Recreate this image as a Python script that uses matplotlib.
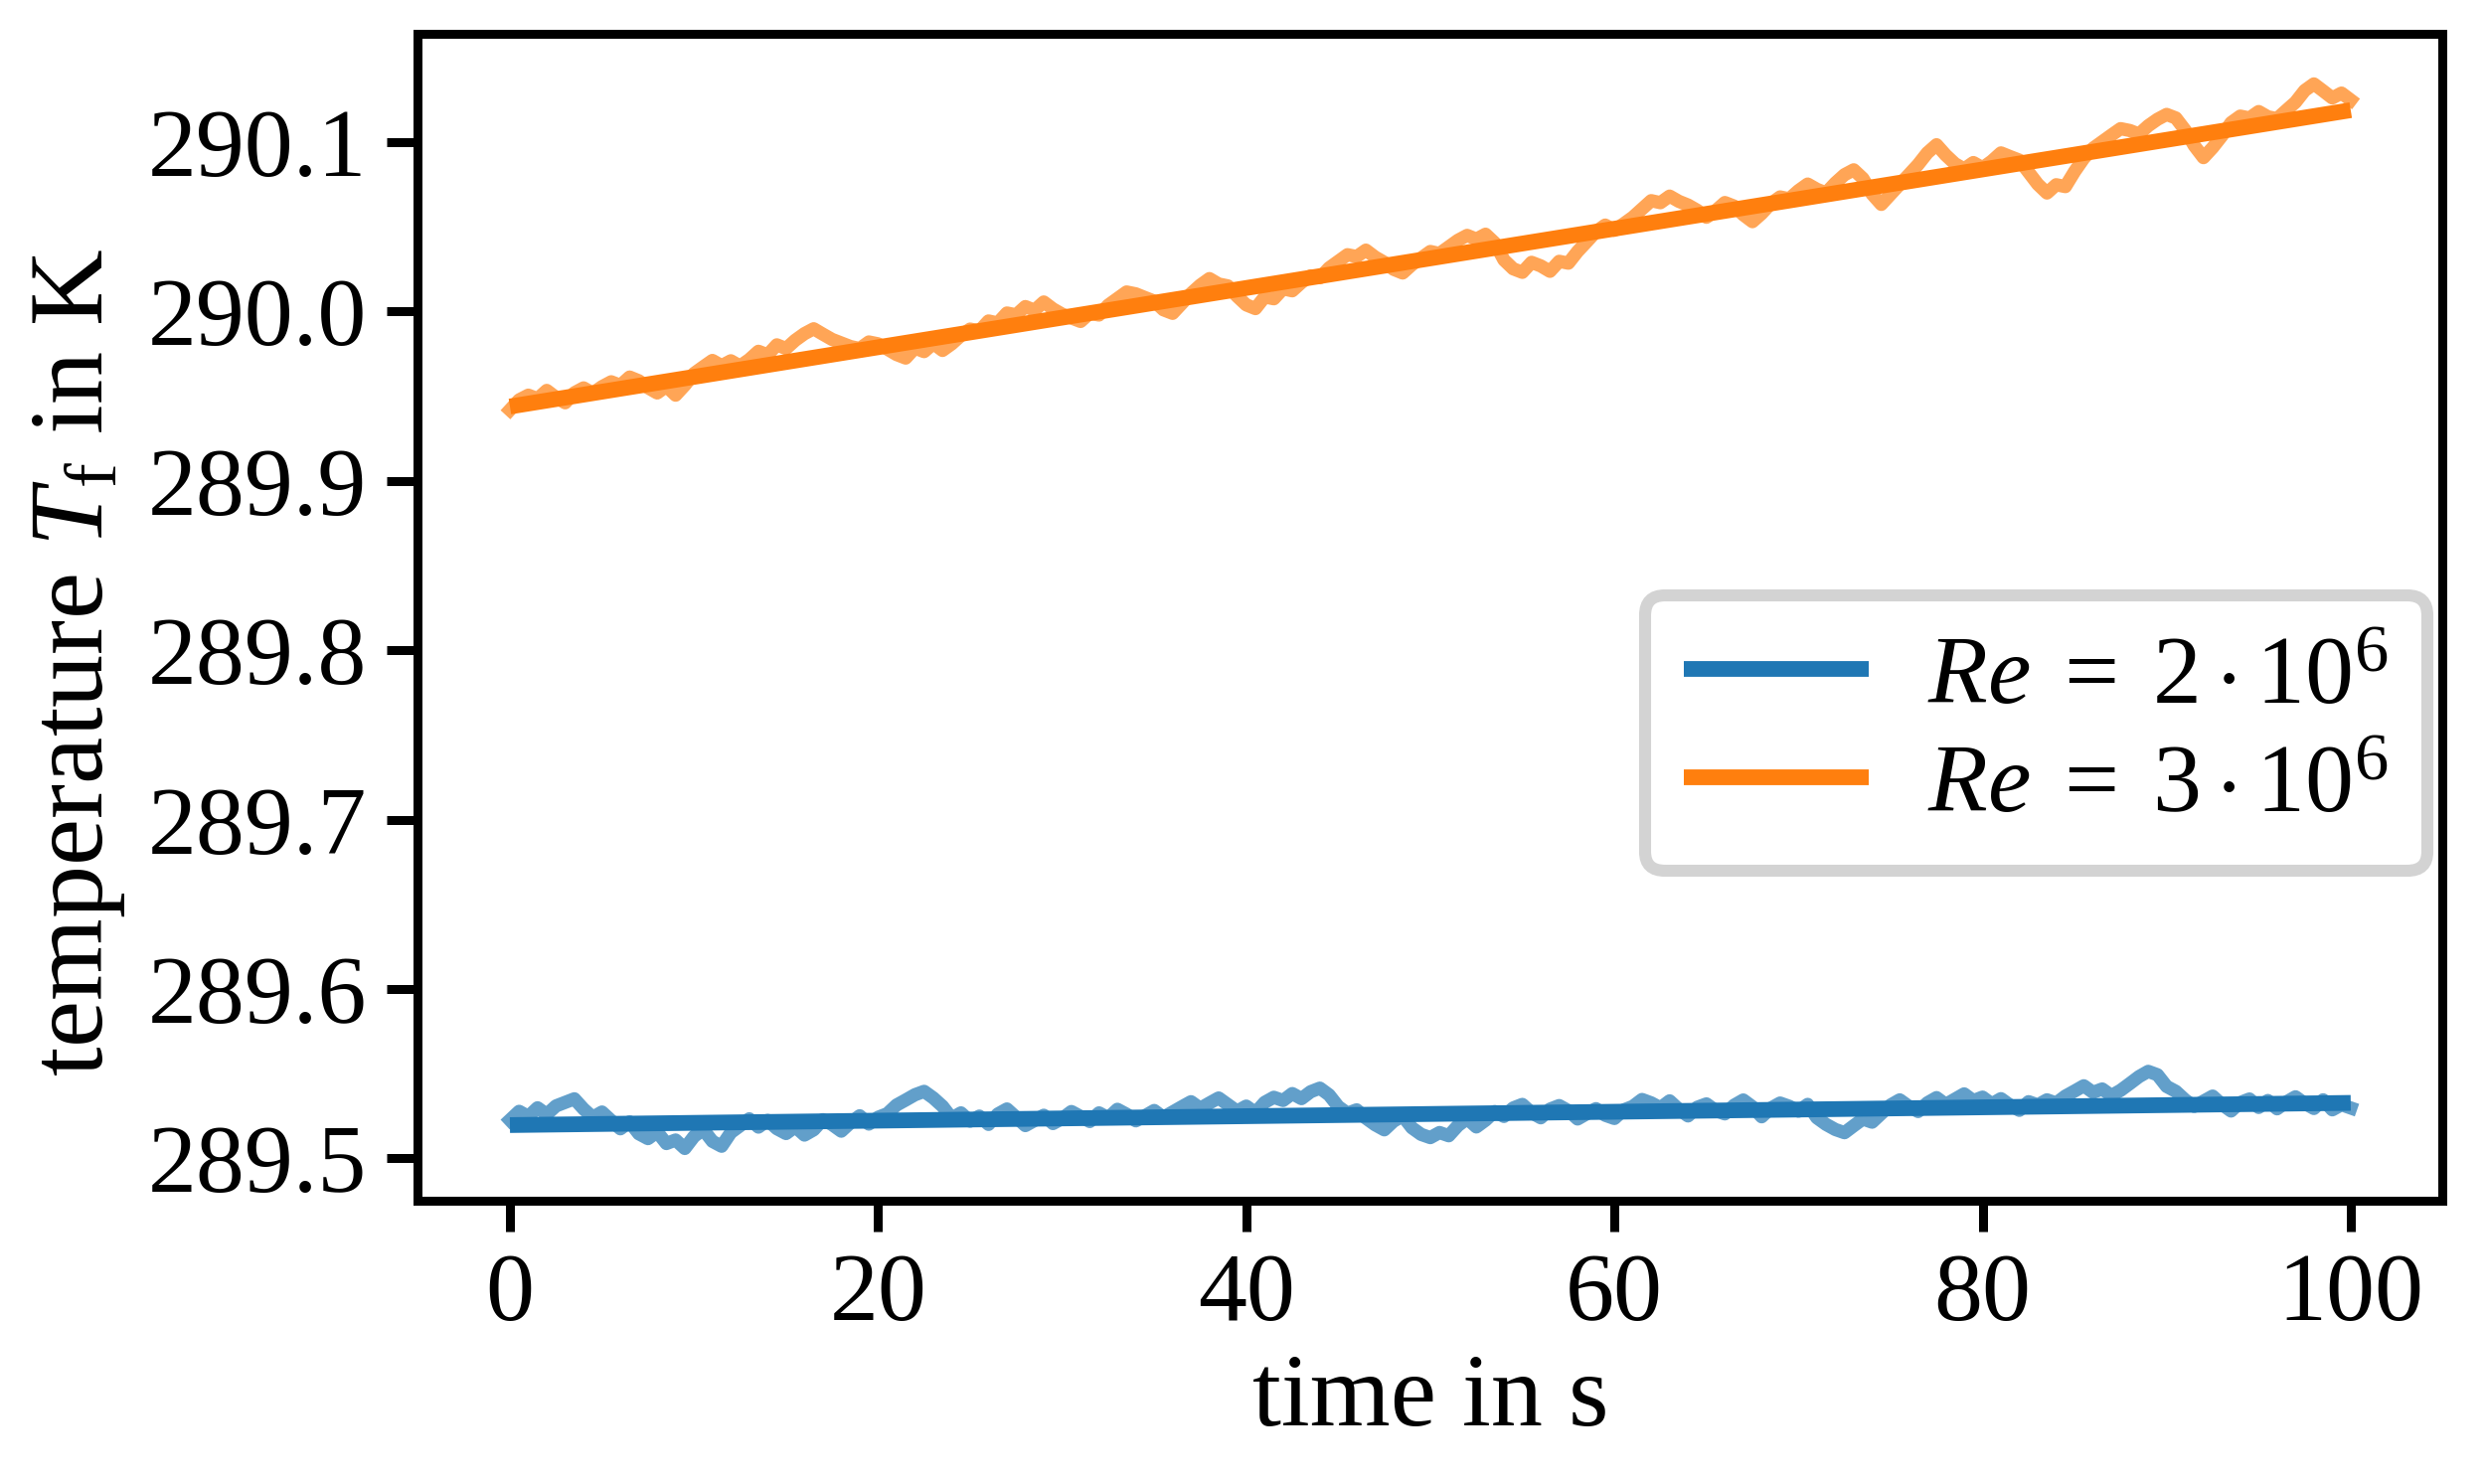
# Temperature drift for two Reynolds numbers, measured signal + linear fit
import numpy as np
import matplotlib
matplotlib.use('Agg')
import matplotlib.pyplot as plt

# time axis of the measured signal (sampled every 0.5 s)
time_s = np.linspace(0, 100, 201)

# Re = 2e6 measured temperature in K
temp_re2 = [
    289.5227, 289.5278, 289.5248, 289.5299, 289.5260, 289.5310, 289.5331, 289.5352, 289.5292, 289.5243,
    289.5274, 289.5224, 289.5175, 289.5216, 289.5146, 289.5117, 289.5157, 289.5088, 289.5109, 289.5059,
    289.5130, 289.5171, 289.5101, 289.5072, 289.5153, 289.5193, 289.5234, 289.5185, 289.5225, 289.5176,
    289.5147, 289.5187, 289.5138, 289.5169, 289.5229, 289.5200, 289.5161, 289.5211, 289.5252, 289.5203,
    289.5243, 289.5264, 289.5315, 289.5345, 289.5376, 289.5396, 289.5357, 289.5308, 289.5238, 289.5269,
    289.5220, 289.5250, 289.5201, 289.5262, 289.5292, 289.5243, 289.5194, 289.5224, 289.5255, 289.5206,
    289.5236, 289.5277, 289.5248, 289.5218, 289.5269, 289.5240, 289.5290, 289.5261, 289.5222, 289.5252,
    289.5283, 289.5243, 289.5274, 289.5305, 289.5335, 289.5296, 289.5327, 289.5357, 289.5318, 289.5279,
    289.5309, 289.5270, 289.5331, 289.5361, 289.5342, 289.5383, 289.5353, 289.5394, 289.5415, 289.5375,
    289.5306, 289.5267, 289.5287, 289.5238, 289.5199, 289.5169, 289.5220, 289.5251, 289.5181, 289.5142,
    289.5123, 289.5153, 289.5134, 289.5194, 289.5235, 289.5186, 289.5226, 289.5277, 289.5248, 289.5298,
    289.5319, 289.5270, 289.5240, 289.5291, 289.5312, 289.5282, 289.5233, 289.5264, 289.5294, 289.5255,
    289.5236, 289.5286, 289.5307, 289.5348, 289.5328, 289.5299, 289.5340, 289.5290, 289.5251, 289.5302,
    289.5322, 289.5283, 289.5263, 289.5314, 289.5345, 289.5305, 289.5246, 289.5297, 289.5327, 289.5308,
    289.5279, 289.5319, 289.5240, 289.5201, 289.5171, 289.5152, 289.5193, 289.5233, 289.5214, 289.5265,
    289.5315, 289.5346, 289.5307, 289.5277, 289.5328, 289.5359, 289.5319, 289.5350, 289.5381, 289.5341,
    289.5362, 289.5322, 289.5353, 289.5314, 289.5284, 289.5335, 289.5316, 289.5346, 289.5327, 289.5368,
    289.5398, 289.5429, 289.5390, 289.5410, 289.5371, 289.5402, 289.5442, 289.5483, 289.5514, 289.5494,
    289.5425, 289.5396, 289.5346, 289.5307, 289.5338, 289.5368, 289.5319, 289.5280, 289.5330, 289.5351,
    289.5301, 289.5342, 289.5293, 289.5333, 289.5364, 289.5325, 289.5295, 289.5346, 289.5287, 289.5317,
    289.5298,
]

# Re = 3e6 measured temperature in K
temp_re3 = [
    289.9418, 289.9477, 289.9505, 289.9484, 289.9533, 289.9492, 289.9460, 289.9519, 289.9548, 289.9517,
    289.9555, 289.9584, 289.9563, 289.9612, 289.9590, 289.9549, 289.9518, 289.9557, 289.9505, 289.9564,
    289.9633, 289.9672, 289.9710, 289.9679, 289.9708, 289.9677, 289.9715, 289.9764, 289.9743, 289.9802,
    289.9780, 289.9829, 289.9868, 289.9897, 289.9865, 289.9834, 289.9813, 289.9792, 289.9780, 289.9819,
    289.9808, 289.9777, 289.9745, 289.9724, 289.9783, 289.9762, 289.9810, 289.9769, 289.9808, 289.9857,
    289.9895, 289.9884, 289.9943, 289.9931, 289.9990, 289.9979, 290.0028, 290.0006, 290.0055, 290.0014,
    289.9983, 289.9961, 289.9940, 289.9989, 289.9978, 290.0036, 290.0075, 290.0114, 290.0103, 290.0081,
    290.0060, 290.0009, 289.9988, 290.0046, 290.0105, 290.0154, 290.0193, 290.0161, 290.0150, 290.0089,
    290.0038, 290.0016, 290.0085, 290.0074, 290.0133, 290.0121, 290.0170, 290.0209, 290.0198, 290.0256,
    290.0295, 290.0334, 290.0323, 290.0361, 290.0320, 290.0289, 290.0248, 290.0226, 290.0275, 290.0314,
    290.0353, 290.0341, 290.0380, 290.0419, 290.0448, 290.0426, 290.0455, 290.0404, 290.0303, 290.0251,
    290.0230, 290.0289, 290.0268, 290.0236, 290.0295, 290.0284, 290.0353, 290.0411, 290.0470, 290.0509,
    290.0478, 290.0516, 290.0555, 290.0604, 290.0653, 290.0641, 290.0680, 290.0649, 290.0627, 290.0596,
    290.0555, 290.0594, 290.0642, 290.0621, 290.0570, 290.0529, 290.0577, 290.0636, 290.0675, 290.0664,
    290.0712, 290.0751, 290.0720, 290.0699, 290.0757, 290.0806, 290.0835, 290.0784, 290.0692, 290.0631,
    290.0690, 290.0749, 290.0807, 290.0866, 290.0935, 290.0983, 290.0922, 290.0871, 290.0840, 290.0878,
    290.0847, 290.0886, 290.0935, 290.0913, 290.0892, 290.0821, 290.0750, 290.0698, 290.0747, 290.0736,
    290.0825, 290.0903, 290.0962, 290.1001, 290.1040, 290.1078, 290.1067, 290.1046, 290.1095, 290.1133,
    290.1162, 290.1141, 290.1070, 290.0978, 290.0907, 290.0966, 290.1035, 290.1113, 290.1152, 290.1141,
    290.1179, 290.1148, 290.1137, 290.1186, 290.1234, 290.1303, 290.1342, 290.1301, 290.1259, 290.1288,
    290.1247,
]

# linear fits (start and end of the fitted line)
fit_time = [0, 100]
fit_re2 = [289.5197, 289.5328]
fit_re3 = [289.9438, 290.1187]

labels = [r'$Re \;=\; 2 \cdot 10^6$', r'$Re \;=\; 3 \cdot 10^6$']
colors = ['#1f77b4', '#ff7f0e']

plt.rcParams['font.family'] = ['Liberation Serif', 'DejaVu Serif']
plt.rcParams['mathtext.fontset'] = 'custom'
plt.rcParams['mathtext.rm'] = 'Liberation Serif'
plt.rcParams['mathtext.it'] = 'Liberation Serif:italic'
plt.rcParams['mathtext.bf'] = 'Liberation Serif:bold'
plt.rcParams['font.size'] = 23.5

dpi = 300
fig = plt.figure(figsize=(2501 / dpi, 1493 / dpi), dpi=dpi)
ax = fig.add_axes([0.1681, 0.1906, 0.8145, 0.7863])

ax.plot(time_s, temp_re2, color=colors[0], lw=3.2, alpha=0.7)
ax.plot(time_s, temp_re3, color=colors[1], lw=3.2, alpha=0.7)
ax.plot(fit_time, fit_re2, color=colors[0], lw=3.8, label=labels[0], solid_capstyle='butt')
ax.plot(fit_time, fit_re3, color=colors[1], lw=3.8, label=labels[1], solid_capstyle='butt')

ax.set_xlim(-5, 105)
ax.set_ylim(289.4748, 290.1635)
ax.set_xticks([0, 20, 40, 60, 80, 100])
ax.set_yticks([289.5, 289.6, 289.7, 289.8, 289.9, 290.0, 290.1])
ax.set_yticklabels(['289.5', '289.6', '289.7', '289.8', '289.9', '290.0', '290.1'])

for s in ax.spines.values():
    s.set_linewidth(2.16)
ax.tick_params(width=2.16, length=7.4, pad=5, labelsize=23.5)

ax.set_xlabel('time in s', fontsize=25, labelpad=3)
ax.set_ylabel(r'temperature $T_\mathrm{f}$ in K', fontsize=25.5)
ax.yaxis.set_label_coords(-0.1435, 0.462)

leg = ax.legend(loc='center right', bbox_to_anchor=(0.9924, 0.401), borderaxespad=0,
                fontsize=23.5, fancybox=True, framealpha=1, edgecolor='#d3d3d3',
                handlelength=1.9, handletextpad=0.6, labelspacing=0.2, borderpad=0.4)
leg.get_frame().set_linewidth(2.9)

fig.savefig('out.png', dpi=dpi)
